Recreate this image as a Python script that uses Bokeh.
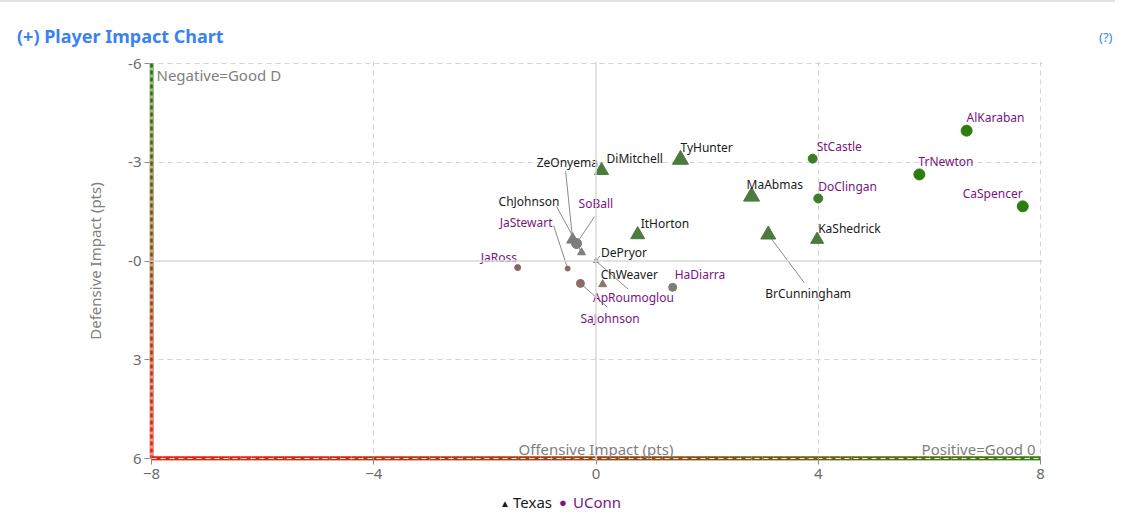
import math
import numpy as np
from bokeh.plotting import figure
from bokeh.layouts import column
from bokeh.models import ColumnDataSource, Range1d, FixedTicker, Label, Span, Div
from bokeh.embed import file_html
from bokeh.resources import INLINE
from bokeh.core.properties import value

# ---------------- data ----------------
texas_names = ["DiMitchell", "TyHunter", "MaAbmas", "BrCunningham", "KaShedrick",
               "ItHorton", "ZeOnyema", "ChJohnson", "DePryor", "ChWeaver"]
texas_off = [0.10, 1.52, 2.80, 3.10, 3.98, 0.75, -0.42, -0.26, 0.00, 0.12]
texas_def = [-2.75, -3.08, -1.96, -0.80, -0.65, -0.80, -0.65, -0.26, 0.00, 0.71]

uconn_names = ["AlKaraban", "TrNewton", "CaSpencer", "StCastle", "DoClingan", "SoBall",
               "JaStewart", "JaRoss", "SaJohnson", "HaDiarra", "ApRoumoglou"]
uconn_off = [6.67, 5.82, 7.68, 3.90, 4.00, -0.35, -0.51, -1.41, -0.28, 1.38, 0.00]
uconn_def = [-3.96, -2.63, -1.66, -3.11, -1.90, -0.53, 0.23, 0.20, 0.68, 0.80, 0.00]

x_ticks = [-8, -4, 0, 4, 8]
y_ticks = [-6, -3, 0, 3, 6]
y_tick_labels = ["-6", "-3", "-0", "3", "6"]

title_text = "(+) Player Impact Chart"
team_names = ["Texas", "UConn"]

# ---------------- styles ----------------
texas_size = [14, 16, 16, 15, 13, 14, 12, 8, 5, 8]
texas_color = ["#4b7b3e"] * 6 + ["#7b7b7b", "#808080", "#858585", "#8a7474"]
uconn_size = [11, 11, 11, 9, 9, 10, 5, 6, 8, 8, 4]
uconn_color = ["#2c7d0d", "#2c7d0d", "#2c7d0d", "#3b7d24", "#3f7d2b", "#7d7d7d",
               "#8b6868", "#8b6464", "#8b6a6a", "#787e78", "#888888"]
# label offsets (px, right / down) of the label's left edge, vertical middle
texas_lab = [(5, -12), (0, -12), (-5, -12), (-3, 59), (1, -11), (3, -11),
             (-36, -77), (-83, -51), (5, -9), (-2, -10)]
uconn_lab = [(0, -13), (-1, -13), (-60, -13), (4, -12), (0, -12), (2, -40),
             (-68, -46), (-37, -10), (0, 35), (2, -13), (-3, 36)]
# leader line ends (px offsets from the point), None = no leader
texas_lead = [None, None, None, (36, 48), None, None, (-7, -68), (-25, -46), (4, -5), None]
uconn_lead = [None, None, None, None, None, (18, -27), (-14, -43), None, (27, 24), None, (32, 28)]

TEXAS_TXT = "#1a1a1a"
UCONN_TXT = "#7a1480"
BLUE = "#3b82f0"
FONT = "Noto Sans"

PXX = 889 / 16.0   # px per x unit
PXY = 395 / 12.0   # px per y unit
padx = 2 / PXX
pady = 2 / PXY

W = 1115
HEAD_H = 50

header = Div(width=W, height=HEAD_H, styles={"margin": "0", "padding": "0"},
             text=(f'<div style="position:relative;width:{W}px;height:{HEAD_H}px;font-family:\'{FONT}\';">'
                   f'<div style="position:absolute;left:0px;top:0px;width:{W}px;height:2px;background:#e2e2e2;"></div>'
                   f'<span style="position:absolute;left:17px;top:25px;font-size:18px;font-weight:bold;'
                   f'color:{BLUE};line-height:22px;white-space:nowrap;">{title_text}</span>'
                   f'<span style="position:absolute;left:1099px;top:29px;font-size:13px;'
                   f'color:{BLUE};line-height:16px;">(?)</span></div>'))

p = figure(width=W, height=440, output_backend="svg", toolbar_location=None,
           x_range=Range1d(x_ticks[0] - padx, x_ticks[-1] + padx),
           y_range=Range1d(y_ticks[-1] + pady, y_ticks[0] - pady),
           min_border_left=149, min_border_right=W - 149 - 893,
           min_border_top=61 - HEAD_H, min_border_bottom=30)
p.outline_line_color = None
p.background_fill_color = "white"
p.border_fill_color = "white"

# axes
p.xaxis.ticker = FixedTicker(ticks=x_ticks)
p.yaxis.ticker = FixedTicker(ticks=y_ticks)
p.yaxis.major_label_overrides = {t: s for t, s in zip(y_ticks, y_tick_labels)}
for ax in (p.xaxis[0], p.yaxis[0]):
    ax.axis_line_color = None
    ax.minor_tick_line_color = None
    ax.major_label_text_color = "#6b6b6b"
    ax.major_label_text_font = FONT
    ax.major_label_text_font_size = "15px"
    ax.major_tick_line_color = "#8a8a8a"
p.xaxis.major_tick_in = 4
p.xaxis.major_tick_out = 4
p.xaxis.major_label_standoff = 4
p.yaxis.major_tick_in = 0
p.yaxis.major_tick_out = 5
p.yaxis.major_label_standoff = 3
p.yaxis.axis_label = "Defensive Impact (pts)"
p.yaxis.axis_label_text_font = FONT
p.yaxis.axis_label_text_font_size = "15px"
p.yaxis.axis_label_text_font_style = "normal"
p.yaxis.axis_label_text_color = "#808080"
p.yaxis.axis_label_standoff = 20

# grid
p.xgrid.ticker = FixedTicker(ticks=[-4, 4, 8])
p.ygrid.ticker = FixedTicker(ticks=[-6, -3, 3])
for g in (p.xgrid[0], p.ygrid[0]):
    g.grid_line_color = "#d4d4d4"
    g.grid_line_dash = "5 4"
    g.grid_line_width = 1
p.add_layout(Span(location=0, dimension="height", line_color="#d8d8d8", line_width=1.5))
p.add_layout(Span(location=0, dimension="width", line_color="#d8d8d8", line_width=1.5))


def hex2rgb(h):
    h = h.lstrip("#")
    return np.array([int(h[i:i + 2], 16) for i in (0, 2, 4)], dtype=float)


def grad(c_a, c_b, c_c, t):
    a, b, c = hex2rgb(c_a), hex2rgb(c_b), hex2rgb(c_c)
    if t <= 0.5:
        r = a + (b - a) * (t / 0.5)
    else:
        r = b + (c - b) * ((t - 0.5) / 0.5)
    return "#%02x%02x%02x" % tuple(int(round(v)) for v in r)


# left gradient axis line (green top -> brown -> red bottom)
n = 80
ys = np.linspace(y_ticks[0], y_ticks[-1], n + 1)
p.segment(x0=[x_ticks[0]] * n, y0=ys[:-1], x1=[x_ticks[0]] * n, y1=ys[1:],
          line_width=5, line_alpha=0.55,
          line_color=[grad("#3c8a1e", "#9a5a1a", "#e8301c", (i + 0.5) / n) for i in range(n)])
dash, gap = 4, 3
span_px = (y_ticks[-1] - y_ticks[0]) * PXY
starts = np.arange(0, span_px, dash + gap)
d0 = y_ticks[0] + starts / PXY
d1 = y_ticks[0] + np.minimum(starts + dash, span_px) / PXY
p.segment(x0=[x_ticks[0]] * len(d0), y0=d0, x1=[x_ticks[0]] * len(d0), y1=d1,
          line_width=2.5,
          line_color=[grad("#2c6e0c", "#8b4513", "#e8200c", s / span_px) for s in starts])

# bottom gradient axis line (red left -> brown -> green right)
xs = np.linspace(x_ticks[0], x_ticks[-1], n + 1)
p.segment(x0=xs[:-1], y0=[y_ticks[-1]] * n, x1=xs[1:], y1=[y_ticks[-1]] * n,
          line_width=4.5,
          line_color=[grad("#e8200c", "#9c4210", "#3a7d0a", (i + 0.5) / n) for i in range(n)])
p.line(x=[x_ticks[0], x_ticks[-1]], y=[y_ticks[-1], y_ticks[-1]], line_color="white",
       line_width=1, line_dash="5 4", line_alpha=0.9)


# leader lines
def leaders(xv, yv, leads):
    x0, y0, x1, y1 = [], [], [], []
    for xx, yy, ld in zip(xv, yv, leads):
        if ld is None:
            continue
        x0.append(xx); y0.append(yy)
        x1.append(xx + ld[0] / PXX); y1.append(yy + ld[1] / PXY)
    return x0, y0, x1, y1


lx0, ly0, lx1, ly1 = leaders(texas_off + uconn_off, texas_def + uconn_def, texas_lead + uconn_lead)
p.segment(x0=lx0, y0=ly0, x1=lx1, y1=ly1, line_color="#8a8a8a", line_width=1)

# markers
tex_src = ColumnDataSource(dict(x=texas_off, y=texas_def, name=texas_names, size=texas_size,
                                color=texas_color,
                                dx=[o[0] for o in texas_lab], dy=[o[1] for o in texas_lab]))
uc_src = ColumnDataSource(dict(x=uconn_off, y=uconn_def, name=uconn_names, size=uconn_size,
                               color=uconn_color,
                               dx=[o[0] for o in uconn_lab], dy=[o[1] for o in uconn_lab]))
p.scatter("x", "y", source=uc_src, marker="circle", size="size", fill_color="color",
          line_color="color")
p.scatter("x", "y", source=tex_src, marker="triangle", size="size", fill_color="color",
          line_color="color")

# point labels
p.text("x", "y", text="name", source=tex_src, x_offset="dx", y_offset="dy",
       text_color=TEXAS_TXT, text_font=value(FONT), text_font_size="12px",
       text_align="left", text_baseline="middle")
p.text("x", "y", text="name", source=uc_src, x_offset="dx", y_offset="dy",
       text_color=UCONN_TXT, text_font=value(FONT), text_font_size="12px",
       text_align="left", text_baseline="middle")

# in-plot annotations
p.add_layout(Label(x=x_ticks[0], y=y_ticks[0], x_offset=5, y_offset=-11, text="Negative=Good D",
                   text_color="#808080", text_font=FONT, text_font_size="15px",
                   text_align="left", text_baseline="middle"))
p.add_layout(Label(x=x_ticks[-1], y=y_ticks[-1], x_offset=-5, y_offset=10, text="Positive=Good 0",
                   text_color="#808080", text_font=FONT, text_font_size="15px",
                   text_align="right", text_baseline="middle"))
p.add_layout(Label(x=0, y=y_ticks[-1], x_offset=0, y_offset=10, text="Offensive Impact (pts)",
                   text_color="#808080", text_font=FONT, text_font_size="15px",
                   text_align="center", text_baseline="middle"))

# legend (HTML, centred under the plot)
sp = "position:absolute;white-space:nowrap;line-height:18px;"
legend = Div(width=W, height=30, styles={"margin": "0", "padding": "0"},
             text=(f'<div style="position:relative;width:{W}px;height:30px;font-family:\'{FONT}\';'
                   f'font-size:15px;">'
                   f'<span style="{sp}left:500px;top:4px;color:{TEXAS_TXT};font-size:10px;">&#9650;</span>'
                   f'<span style="{sp}left:513px;top:3px;color:{TEXAS_TXT};">{team_names[0]}</span>'
                   f'<span style="{sp}left:559px;top:3px;color:{UCONN_TXT};font-size:13px;">&#9679;</span>'
                   f'<span style="{sp}left:573px;top:3px;color:{UCONN_TXT};">{team_names[1]}</span>'
                   f'</div>'))

layout = column(header, p, legend, spacing=0)
open("out.html", "w").write(file_html(layout, INLINE))
